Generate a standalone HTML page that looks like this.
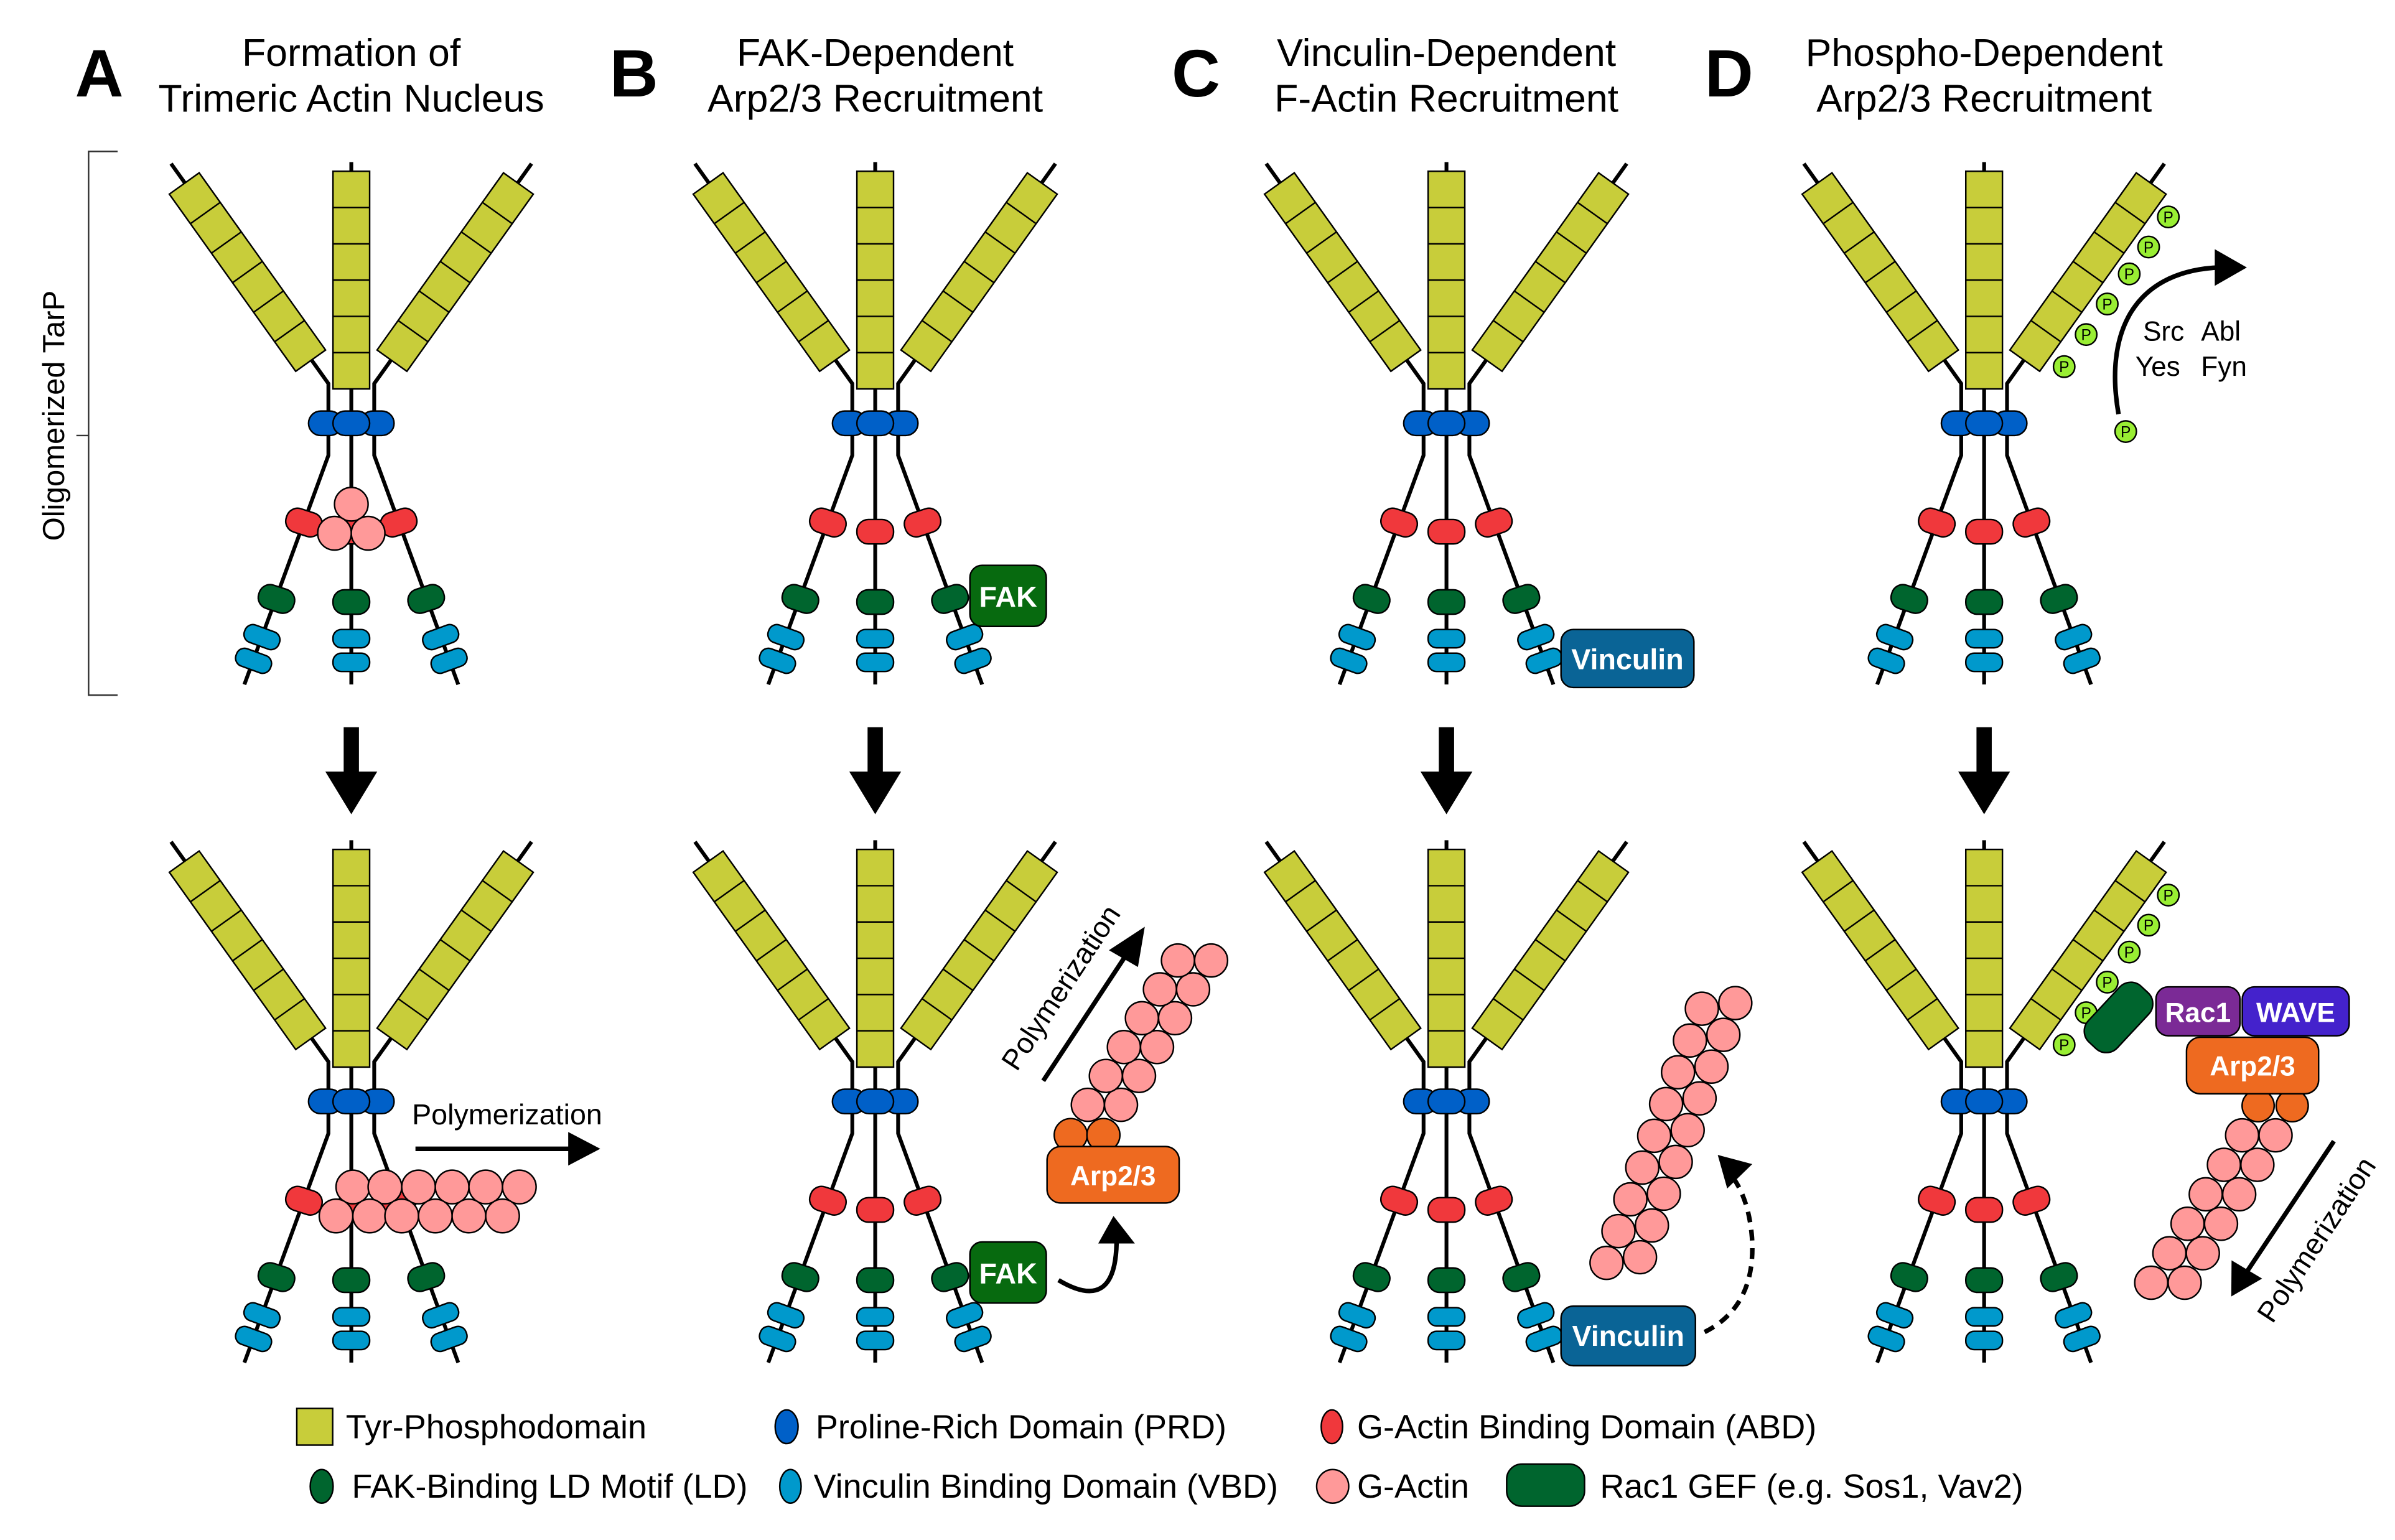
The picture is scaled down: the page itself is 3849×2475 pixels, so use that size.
<!DOCTYPE html>
<html><head><meta charset="utf-8"><style>
html,body{margin:0;padding:0;background:#fff;}
svg{display:block;}
text{font-family:"Liberation Sans",Arial,sans-serif;}
</style></head><body>
<svg width="3849" height="2475" viewBox="0 0 1568 1008" xmlns="http://www.w3.org/2000/svg">
<defs>
<g id="arm">
<rect x="-12" y="-71.25" width="24" height="142.5" fill="#C8CD3A" stroke="#000" stroke-width="1"/>
<path d="M-12,-47.5H12M-12,-23.75H12M-12,0H12M-12,23.75H12M-12,47.5H12" stroke="#000" stroke-width="1"/>
</g>
<rect id="pill16" x="-12" y="-8" width="24" height="16" rx="7.5"/>
<rect id="pill12" x="-12" y="-6" width="24" height="12" rx="5.5"/>
<g id="mol">
<path d="M0,106V448 M-118,107L-15,251V298L-70,448 M118,107L15,251V298L70,448" fill="none" stroke="#000" stroke-width="2.5"/>
<use href="#arm" transform="translate(0,183.25)"/>
<use href="#arm" transform="translate(-68,178) rotate(-35.5)"/>
<use href="#arm" transform="translate(68,178) rotate(35.5)"/>
<g fill="#0060C8" stroke="#000" stroke-width="1">
<rect x="-28" y="-8" width="22" height="16" rx="8" transform="translate(0,277)"/>
<rect x="6" y="-8" width="22" height="16" rx="8" transform="translate(0,277)"/>
<rect x="-12" y="269" width="24" height="16" rx="8"/>
</g>
<g fill="#F0383C" stroke="#000" stroke-width="1">
<use href="#pill16" transform="translate(0,348)"/>
<use href="#pill16" transform="translate(-31,342) rotate(18)"/>
<use href="#pill16" transform="translate(31,342) rotate(-18)"/>
</g>
<g fill="#00652E" stroke="#000" stroke-width="1">
<use href="#pill16" transform="translate(0,394)"/>
<use href="#pill16" transform="translate(-49,392) rotate(18)"/>
<use href="#pill16" transform="translate(49,392) rotate(-18)"/>
</g>
<g fill="#0099CC" stroke="#000" stroke-width="1">
<use href="#pill12" transform="translate(0,418)"/>
<use href="#pill12" transform="translate(0,433.5)"/>
<use href="#pill12" transform="translate(-58.5,417) rotate(20)"/>
<use href="#pill12" transform="translate(-64,432.5) rotate(20)"/>
<use href="#pill12" transform="translate(58.5,417) rotate(-20)"/>
<use href="#pill12" transform="translate(64,432.5) rotate(-20)"/>
</g>
</g>
<g id="downarrow"><polygon points="-5,476 5,476 5,505 17,505 0,533 -17,505 -5,505" fill="#000"/></g>
<g id="pcircles" font-size="10" text-anchor="middle">
<g fill="#99EE33" stroke="#000" stroke-width="1">
<circle cx="120.6" cy="141.9" r="7"/><circle cx="107.7" cy="161.6" r="7"/><circle cx="95" cy="179.2" r="7"/>
<circle cx="80.6" cy="198.9" r="7"/><circle cx="66.8" cy="218.9" r="7"/><circle cx="52.4" cy="239.9" r="7"/>
</g>
<text x="120.6" y="145.5">P</text><text x="107.7" y="165.2">P</text><text x="95" y="182.8">P</text>
<text x="80.6" y="202.5">P</text><text x="66.8" y="222.5">P</text><text x="52.4" y="243.5">P</text>
</g>
</defs>

<g font-size="25.5" text-anchor="middle" fill="#000">
<text x="230" y="43">Formation of</text><text x="230" y="73">Trimeric Actin Nucleus</text>
<text x="573" y="43">FAK-Dependent</text><text x="573" y="73">Arp2/3 Recruitment</text>
<text x="947" y="43">Vinculin-Dependent</text><text x="947" y="73">F-Actin Recruitment</text>
<text x="1299" y="43">Phospho-Dependent</text><text x="1299" y="73">Arp2/3 Recruitment</text>
</g>
<g font-size="44" font-weight="bold" text-anchor="middle">
<text x="65" y="63">A</text><text x="415" y="63">B</text><text x="783" y="63">C</text><text x="1132" y="63">D</text>
</g>

<path d="M77,99H58V455H77M50,285H58" fill="none" stroke="#333" stroke-width="1"/>
<text x="0" y="0" font-size="20" text-anchor="middle" transform="translate(42,272) rotate(-90)">Oligomerized TarP</text>

<use href="#mol" transform="translate(230,0)"/>
<use href="#mol" transform="translate(573,0)"/>
<use href="#mol" transform="translate(947,0)"/>
<use href="#mol" transform="translate(1299,0)"/>
<use href="#mol" transform="translate(230,444)"/>
<use href="#mol" transform="translate(573,444)"/>
<use href="#mol" transform="translate(947,444)"/>
<use href="#mol" transform="translate(1299,444)"/>

<use href="#downarrow" transform="translate(230,0)"/>
<use href="#downarrow" transform="translate(573,0)"/>
<use href="#downarrow" transform="translate(947,0)"/>
<use href="#downarrow" transform="translate(1299,0)"/>

<g fill="#FF9999" stroke="#000" stroke-width="1">
<circle cx="230" cy="330" r="11"/><circle cx="219" cy="349" r="11"/><circle cx="241" cy="349" r="11"/>
</g>
<g fill="#FF9999" stroke="#000" stroke-width="1">
<circle cx="231" cy="777" r="11"/><circle cx="252" cy="777" r="11"/><circle cx="274" cy="777" r="11"/><circle cx="296" cy="777" r="11"/><circle cx="318" cy="777" r="11"/><circle cx="340" cy="777" r="11"/>
<circle cx="220" cy="796" r="11"/><circle cx="242" cy="796" r="11"/><circle cx="263" cy="796" r="11"/><circle cx="285" cy="796" r="11"/><circle cx="307" cy="796" r="11"/><circle cx="329" cy="796" r="11"/>
</g>
<line x1="272" y1="752" x2="375" y2="752" stroke="#000" stroke-width="3"/>
<polygon points="372,741 393,752 372,763" fill="#000"/>
<text x="332" y="736" font-size="19" text-anchor="middle">Polymerization</text>

<rect x="635" y="370" width="50" height="40" rx="8" fill="#076A0F" stroke="#000" stroke-width="1"/>
<text x="660" y="397" font-size="19" font-weight="bold" fill="#fff" text-anchor="middle">FAK</text>
<rect x="635" y="813" width="50" height="40" rx="8" fill="#076A0F" stroke="#000" stroke-width="1"/>
<text x="660" y="840" font-size="19" font-weight="bold" fill="#fff" text-anchor="middle">FAK</text>
<path d="M693,838 Q730,860 731,814" fill="none" stroke="#000" stroke-width="3"/>
<polygon points="719,814 743,814 729,796" fill="#000"/>
<g fill="#EE6A20" stroke="#000" stroke-width="1">
<circle cx="701" cy="743" r="10.8"/><circle cx="722.4" cy="743" r="10.8"/>
<rect x="685.5" y="750.5" width="86.5" height="37" rx="9"/>
</g>
<text x="728.7" y="776" font-size="18" font-weight="bold" fill="#fff" text-anchor="middle">Arp2/3</text>
<g fill="#FF9999" stroke="#000" stroke-width="1">
<circle cx="712.2" cy="723.2" r="10.8"/><circle cx="733.9" cy="723.2" r="10.8"/>
<circle cx="724" cy="704.3" r="10.8"/><circle cx="745.7" cy="704.3" r="10.8"/>
<circle cx="735.8" cy="685.4" r="10.8"/><circle cx="757.5" cy="685.4" r="10.8"/>
<circle cx="747.6" cy="666.5" r="10.8"/><circle cx="769.3" cy="666.5" r="10.8"/>
<circle cx="759.4" cy="647.6" r="10.8"/><circle cx="781.1" cy="647.6" r="10.8"/>
<circle cx="771.2" cy="628.7" r="10.8"/><circle cx="792.9" cy="628.7" r="10.8"/>
</g>
<line x1="683" y1="707.5" x2="740" y2="621" stroke="#000" stroke-width="3"/>
<polygon points="749.5,606.6 726,622 745,633" fill="#000"/>
<text x="0" y="0" font-size="19" text-anchor="middle" transform="translate(700,650) rotate(-56.6)">Polymerization</text>

<rect x="1022" y="412" width="87" height="38" rx="8" fill="#0A6496" stroke="#000" stroke-width="1"/>
<text x="1065.5" y="438" font-size="19" font-weight="bold" fill="#fff" text-anchor="middle">Vinculin</text>
<rect x="1022" y="855" width="88" height="39" rx="8" fill="#0A6496" stroke="#000" stroke-width="1"/>
<text x="1066" y="881" font-size="19" font-weight="bold" fill="#fff" text-anchor="middle">Vinculin</text>
<g fill="#FF9999" stroke="#000" stroke-width="1">
<circle cx="1051.8" cy="826.7" r="10.8"/><circle cx="1073.7" cy="823" r="10.8"/>
<circle cx="1059.6" cy="805.9" r="10.8"/><circle cx="1081.5" cy="802.2" r="10.8"/>
<circle cx="1067.4" cy="785.1" r="10.8"/><circle cx="1089.3" cy="781.4" r="10.8"/>
<circle cx="1075.2" cy="764.3" r="10.8"/><circle cx="1097.1" cy="760.6" r="10.8"/>
<circle cx="1083" cy="743.5" r="10.8"/><circle cx="1104.9" cy="739.8" r="10.8"/>
<circle cx="1090.8" cy="722.7" r="10.8"/><circle cx="1112.7" cy="719" r="10.8"/>
<circle cx="1098.6" cy="701.9" r="10.8"/><circle cx="1120.5" cy="698.2" r="10.8"/>
<circle cx="1106.4" cy="681.1" r="10.8"/><circle cx="1128.3" cy="677.4" r="10.8"/>
<circle cx="1114.2" cy="660.3" r="10.8"/><circle cx="1136.1" cy="656.6" r="10.8"/>
</g>
<path d="M1116,872 Q1150,855 1147,810 Q1145,785 1134,770" fill="none" stroke="#000" stroke-width="3" stroke-dasharray="7,5"/>
<polygon points="1124.6,756 1130.8,778 1147.2,762" fill="#000"/>

<use href="#pcircles" transform="translate(1299,0)"/>
<path d="M1387,271 C1378,220 1395,178 1452,175" fill="none" stroke="#000" stroke-width="3"/>
<polygon points="1450,163 1471,175 1450,187" fill="#000"/>
<circle cx="1391.7" cy="282.4" r="7" fill="#99EE33" stroke="#000" stroke-width="1"/>
<text x="1391.7" y="286" font-size="10" text-anchor="middle">P</text>
<text x="1403" y="223" font-size="18">Src</text><text x="1441" y="223" font-size="18">Abl</text>
<text x="1398" y="246" font-size="18">Yes</text><text x="1441" y="246" font-size="18">Fyn</text>

<use href="#pcircles" transform="translate(1299,444)"/>
<rect x="-25" y="-13" width="50" height="26" rx="10" fill="#00652E" stroke="#000" stroke-width="1" transform="translate(1387,666) rotate(-47)"/>
<rect x="1411.5" y="646" width="55" height="32" rx="8" fill="#7B2A96" stroke="#000" stroke-width="1"/>
<text x="1439" y="669" font-size="18" font-weight="bold" fill="#fff" text-anchor="middle">Rac1</text>
<rect x="1468" y="646" width="70" height="32" rx="8" fill="#4422CC" stroke="#000" stroke-width="1"/>
<text x="1503" y="669" font-size="18" font-weight="bold" fill="#fff" text-anchor="middle">WAVE</text>
<g fill="#EE6A20" stroke="#000" stroke-width="1">
<circle cx="1478.4" cy="723.8" r="10.5"/><circle cx="1500.7" cy="723.8" r="10.5"/>
<rect x="1431.5" y="679" width="86.5" height="37" rx="9"/>
</g>
<text x="1474.7" y="704" font-size="18" font-weight="bold" fill="#fff" text-anchor="middle">Arp2/3</text>
<g fill="#FF9999" stroke="#000" stroke-width="1">
<circle cx="1467.9" cy="743.2" r="10.8"/><circle cx="1489.8" cy="743.2" r="10.8"/>
<circle cx="1456" cy="762.5" r="10.8"/><circle cx="1477.9" cy="762.5" r="10.8"/>
<circle cx="1444.1" cy="781.8" r="10.8"/><circle cx="1466" cy="781.8" r="10.8"/>
<circle cx="1432.2" cy="801.1" r="10.8"/><circle cx="1454.1" cy="801.1" r="10.8"/>
<circle cx="1420.3" cy="820.4" r="10.8"/><circle cx="1442.2" cy="820.4" r="10.8"/>
<circle cx="1408.4" cy="839.7" r="10.8"/><circle cx="1430.3" cy="839.7" r="10.8"/>
</g>
<line x1="1528" y1="747" x2="1470" y2="834" stroke="#000" stroke-width="3"/>
<polygon points="1460.8,848.7 1461,825 1481,837" fill="#000"/>
<text x="0" y="0" font-size="19" text-anchor="middle" transform="translate(1522,815) rotate(-56.7)">Polymerization</text>

<g stroke="#000" stroke-width="1">
<rect x="194.3" y="922" width="23.5" height="24" fill="#C8CD3A"/>
<ellipse cx="515" cy="934" rx="7.5" ry="11" fill="#0060C8"/>
<ellipse cx="872" cy="934" rx="7" ry="11" fill="#F0383C"/>
<ellipse cx="210.6" cy="973" rx="7.5" ry="11" fill="#00652E"/>
<ellipse cx="517.5" cy="973" rx="7" ry="11" fill="#0099CC"/>
<ellipse cx="872.5" cy="973" rx="10.5" ry="11" fill="#FF9999"/>
<rect x="986.4" y="958.4" width="51" height="27.6" rx="10" fill="#00652E"/>
</g>
<g font-size="22">
<text x="226.4" y="941.5">Tyr-Phosphodomain</text>
<text x="534" y="941.5">Proline-Rich Domain (PRD)</text>
<text x="888.5" y="941.5">G-Actin Binding Domain (ABD)</text>
<text x="230.3" y="980.5">FAK-Binding LD Motif (LD)</text>
<text x="532.7" y="980.5">Vinculin Binding Domain (VBD)</text>
<text x="888.5" y="980.5">G-Actin</text>
<text x="1047.5" y="980.5">Rac1 GEF (e.g. Sos1, Vav2)</text>
</g>
</svg>
</body></html>
